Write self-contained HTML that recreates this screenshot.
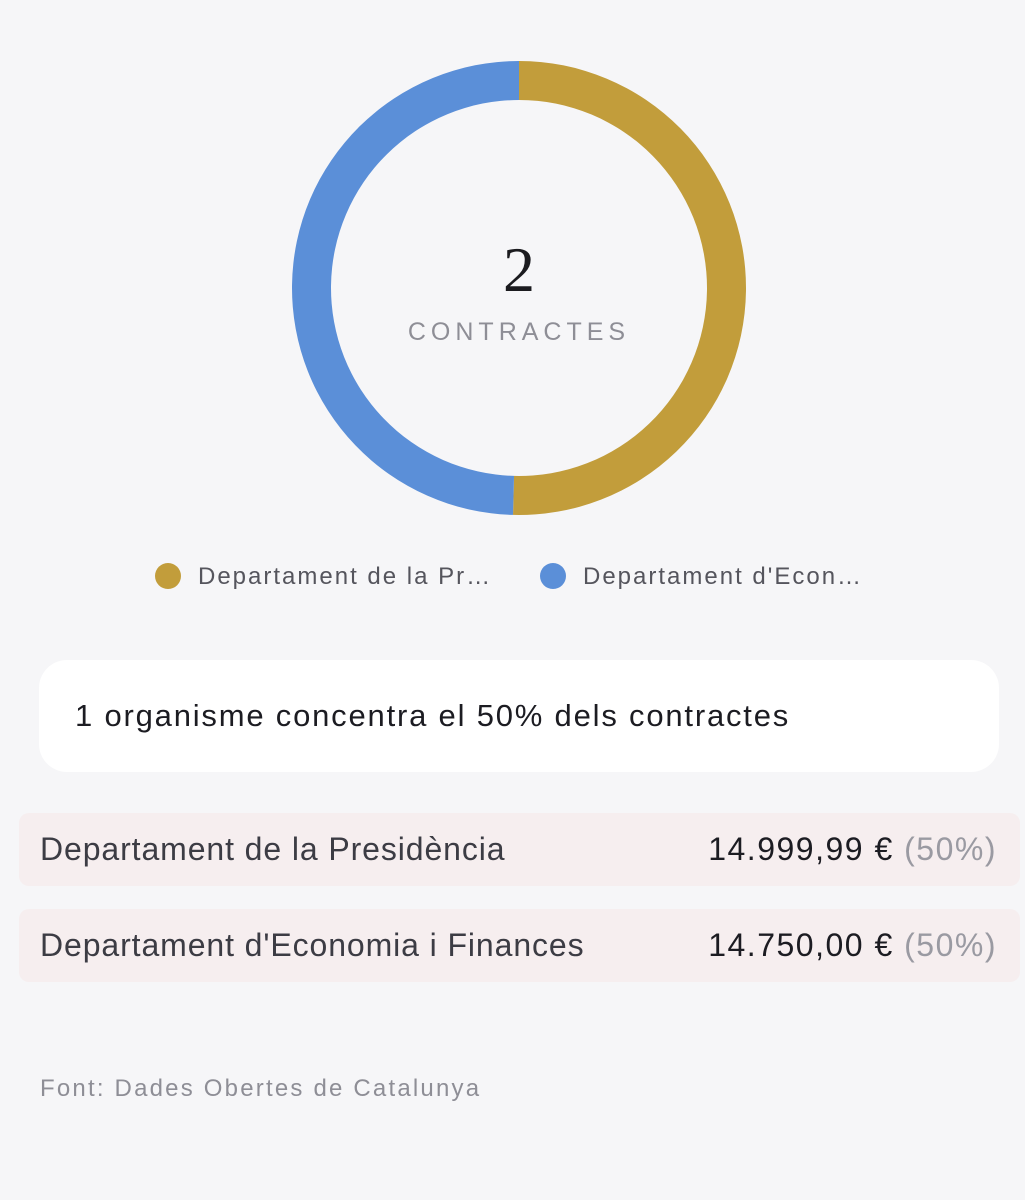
<!DOCTYPE html>
<html><head><meta charset="utf-8">
<style>
body{margin:0;width:1025px;height:1200px;background:#f6f6f8;font-family:"Liberation Sans",sans-serif;position:relative;overflow:hidden}
.abs{position:absolute}
.row{position:absolute;left:19px;width:1001px;height:73px;background:#f6eeef;border-radius:10px}
.row .l{position:absolute;left:21px;top:18px;font-size:32px;letter-spacing:0.9px;color:#3c3c44;white-space:nowrap}
.row .r{position:absolute;right:23px;top:18px;font-size:32px;letter-spacing:1.5px;color:#1c1c22;white-space:nowrap}
.row .r span{color:#9a9aa2}
.leg{position:absolute;top:563px;font-size:24px;letter-spacing:2px;color:#55555d;white-space:nowrap}
.leg i{display:inline-block;width:26px;height:26px;border-radius:50%;vertical-align:-5px;margin-right:17px}
</style></head><body>
<svg class="abs" style="left:0;top:0" width="1025" height="640">
<g id="slices"></g>
<text x="519" y="291" text-anchor="middle" font-family="Liberation Serif,serif" font-size="64" fill="#1b1b1f">2</text>
<text x="519" y="340" text-anchor="middle" font-size="25" letter-spacing="5" fill="#8e8e96">CONTRACTES</text>
</svg>
<div class="leg" style="left:155px"><i style="background:#c29d3b"></i>Departament de la Pr…</div>
<div class="leg" style="left:540px"><i style="background:#5b8fd8"></i>Departament d'Econ…</div>
<div class="abs" style="left:39px;top:660px;width:960px;height:112px;background:#fff;border-radius:28px">
<div class="abs" style="left:36px;top:38px;font-size:31px;letter-spacing:1.8px;color:#1c1c22;white-space:nowrap">1 organisme concentra el 50% dels contractes</div></div>
<div class="row" style="top:813px"><div class="l">Departament de la Presidència</div><div class="r">14.999,99 € <span>(50%)</span></div></div>
<div class="row" style="top:909px"><div class="l">Departament d'Economia i Finances</div><div class="r">14.750,00 € <span>(50%)</span></div></div>
<div class="abs" style="left:40px;top:1075px;font-size:24px;letter-spacing:2.2px;color:#8e8e96;white-space:nowrap">Font: Dades Obertes de Catalunya</div>
<script>
const labels=["Departament de la Presidència","Departament d'Economia i Finances"];
const values=[14999.99,14750.00];
const colors=["#c29d3b","#5b8fd8"];
const cx=519,cy=288,R=227,r=188;
const g=document.getElementById('slices');
const tot=values.reduce((a,b)=>a+b,0);
let a0=0;
function pt(rad,a){return [cx+rad*Math.sin(a),cy-rad*Math.cos(a)];}
values.forEach((v,i)=>{
const a1=a0+v/tot*2*Math.PI;
const lg=(a1-a0)>Math.PI?1:0;
const [x1,y1]=pt(R,a0),[x2,y2]=pt(R,a1),[x3,y3]=pt(r,a1),[x4,y4]=pt(r,a0);
const p=document.createElementNS('http://www.w3.org/2000/svg','path');
p.setAttribute('d',`M${x1},${y1}A${R},${R} 0 ${lg} 1 ${x2},${y2}L${x3},${y3}A${r},${r} 0 ${lg} 0 ${x4},${y4}Z`);
p.setAttribute('fill',colors[i]);


g.appendChild(p);
a0=a1;
});
</script>
</body></html>
